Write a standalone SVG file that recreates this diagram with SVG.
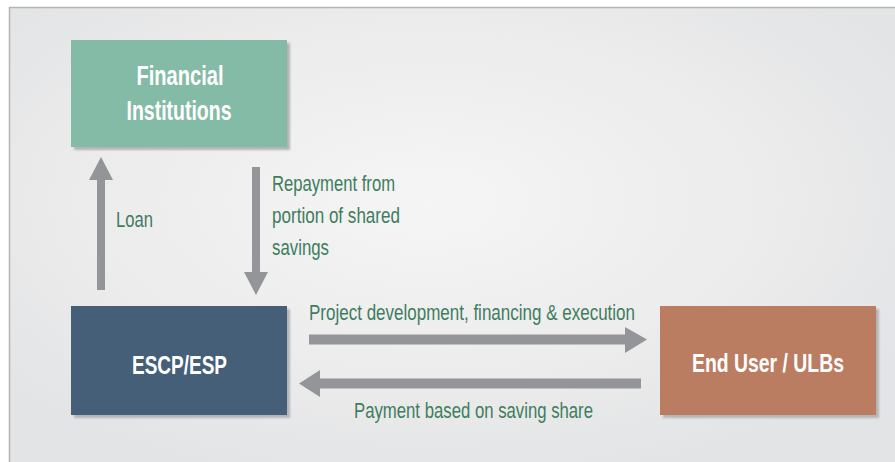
<svg xmlns="http://www.w3.org/2000/svg" width="895" height="462" viewBox="0 0 895 462">
  <defs>
    <radialGradient id="panelBg" cx="0.47" cy="0.42" r="0.62" gradientUnits="objectBoundingBox">
      <stop offset="0" stop-color="#f5f5f5"/>
      <stop offset="0.6" stop-color="#ececed"/>
      <stop offset="1" stop-color="#e3e4e5"/>
    </radialGradient>
    <filter id="shadow" x="-10%" y="-10%" width="125%" height="130%">
      <feGaussianBlur stdDeviation="0.8"/>
    </filter>
  </defs>
  <style>
    .shadow { fill: #b3b4b6; filter: url(#shadow); }
    .node-label { font-family: "Liberation Sans", Arial, sans-serif; font-weight: bold; font-size: 28px; fill: #ffffff; text-anchor: middle; }
    .node-label.small { font-size: 26px; }
    .flow-label { font-family: "Liberation Sans", Arial, sans-serif; font-size: 21.5px; fill: #3f7d5e; }
    .arrow { fill: #939598; }
  </style>

  <!-- background panel -->
  <rect x="0" y="0" width="895" height="462" fill="#ffffff"/>
  <rect x="9.5" y="7.5" width="890" height="460" fill="url(#panelBg)" stroke="#b4b4b4" stroke-width="1.5"/>

  <g id="financial-institutions">
    <rect class="shadow" x="74" y="43" width="216" height="107"/>
    <rect x="71" y="40" width="216" height="107" fill="#84bba6"/>
    <text class="node-label" x="180" y="85" textLength="87" lengthAdjust="spacingAndGlyphs">Financial</text>
    <text class="node-label" x="179" y="120" textLength="105" lengthAdjust="spacingAndGlyphs">Institutions</text>
  </g>

  <g id="escp-esp">
    <rect class="shadow" x="74" y="309" width="216" height="109"/>
    <rect x="71" y="306" width="216" height="109" fill="#445f77"/>
    <text class="node-label small" x="179.5" y="374" textLength="95" lengthAdjust="spacingAndGlyphs">ESCP/ESP</text>
  </g>

  <g id="end-user">
    <rect class="shadow" x="663" y="309" width="216" height="109"/>
    <rect x="660" y="306" width="216" height="109" fill="#bb7d62"/>
    <text class="node-label small" x="768" y="372" textLength="152" lengthAdjust="spacingAndGlyphs">End User / ULBs</text>
  </g>

  <g id="connectors">
    <!-- Loan: ESCP/ESP up to Financial Institutions -->
    <polygon class="arrow" points="97,290 105,290 105,180 113,180 101,157 89,180 97,180"/>
    <text class="flow-label" x="116" y="227" textLength="37" lengthAdjust="spacingAndGlyphs">Loan</text>

    <!-- Repayment: Financial Institutions down to ESCP/ESP -->
    <polygon class="arrow" points="252,167 260,167 260,272 268,272 256,295 244,272 252,272"/>
    <text class="flow-label" x="272" y="191" textLength="123" lengthAdjust="spacingAndGlyphs">Repayment from</text>
    <text class="flow-label" x="272" y="223" textLength="128" lengthAdjust="spacingAndGlyphs">portion of shared</text>
    <text class="flow-label" x="272" y="255" textLength="57" lengthAdjust="spacingAndGlyphs">savings</text>

    <!-- Project development: ESCP/ESP to End User -->
    <polygon class="arrow" points="309,334.5 625,334.5 625,327 647,339.5 625,353 625,344.5 309,344.5"/>
    <text class="flow-label" x="309" y="320" textLength="326" lengthAdjust="spacingAndGlyphs">Project development, financing &amp; execution</text>

    <!-- Payment: End User back to ESCP/ESP -->
    <polygon class="arrow" points="641,378.5 320,378.5 320,370 299,383.5 320,397 320,388.5 641,388.5"/>
    <text class="flow-label" x="354" y="418" textLength="239" lengthAdjust="spacingAndGlyphs">Payment based on saving share</text>
  </g>
</svg>
